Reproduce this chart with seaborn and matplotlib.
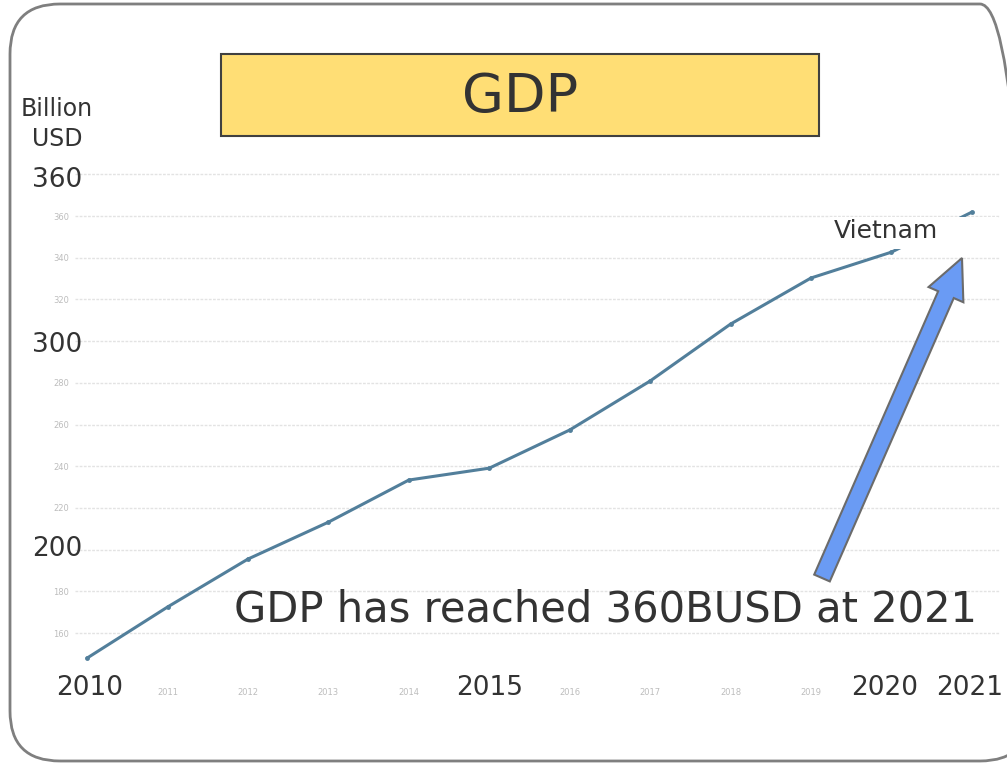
import matplotlib
matplotlib.use("Agg")
import matplotlib.pyplot as plt
import matplotlib.patches as mpatches
import seaborn as sns

# data
years = [2010, 2011, 2012, 2013, 2014, 2015, 2016, 2017, 2018, 2019, 2020, 2021]
gdp = [148.0, 172.5, 195.5, 213.2, 233.4, 239.1, 257.4, 280.9, 308.2, 330.3, 342.7, 361.9]
y_ticks = [160, 180, 200, 220, 240, 260, 280, 300, 320, 340, 360, 380]
big_y_labels = ["360", "300", "200"]
big_x_labels = ["2010", "2015", "2020", "2021"]
title = "GDP"
unit_label = "Billion\nUSD"
series_name = "Vietnam"
note = "GDP has reached 360BUSD at 2021"

sns.set_style("white")
plt.rcParams['font.family'] = ['DejaVu Sans']

W, H = 1007, 763
fig = plt.figure(figsize=(W / 100, H / 100), dpi=100)

def fx(px):
    return px / W

def fy(py):
    return 1 - py / H

# chart area (the small, faint embedded chart)
ax = fig.add_axes([fx(75), fy(670), fx(1000) - fx(75), fy(170) - fy(670)])
sns.lineplot(x=years, y=gdp, ax=ax, color="#527f9b", lw=2.2,
             marker="o", markersize=3.5, markeredgewidth=0, zorder=3)
ax.set_xlim(2009.85, 2021.35)
ax.set_ylim(142.3, 382.1)

# small labels hidden where the slide puts a big label over them
covered_x = [int(v) for v in big_x_labels]
covered_y = [200, 300, 380]
ax.set_xticks(years)
ax.set_xticklabels(["" if y in covered_x else str(y) for y in years],
                   fontsize=6, color="#bdbdbd")
ax.set_yticks(y_ticks)
ax.set_yticklabels(["" if v in covered_y else str(v) for v in y_ticks],
                   fontsize=6, color="#bdbdbd")
ax.tick_params(axis="x", length=3, color="#dddddd", pad=10)
ax.tick_params(axis="y", length=0, pad=4)
ax.grid(axis="y", color="#e3e3e3", lw=1.0, linestyle=(0, (2, 1)))
ax.set_xlabel("")
ax.set_ylabel("")
for s in ax.spines.values():
    s.set_visible(False)
ax.patch.set_alpha(0)

# rounded frame
frame = mpatches.FancyBboxPatch((0.10, 0.02), 10.2, 7.57,
                                boxstyle="round,pad=0,rounding_size=0.5",
                                transform=fig.dpi_scale_trans, fill=False,
                                edgecolor="#7f7f7f", lw=2, clip_on=False)
fig.add_artist(frame)

# title box
tb = mpatches.Rectangle((fx(221), fy(136)), fx(819) - fx(221), fy(54) - fy(136),
                        transform=fig.transFigure, facecolor="#ffde75",
                        edgecolor="#404040", lw=1.5)
fig.add_artist(tb)
fig.text(fx(520), fy(97), title, ha="center", va="center", fontsize=39, color="#333333")

txt = "#333333"
fig.text(fx(57), fy(124), unit_label, ha="center", va="center", fontsize=17,
         color=txt, linespacing=1.3)

for lab, py in zip(big_y_labels, [180, 345, 549]):
    fig.text(fx(57), fy(py), lab, ha="center", va="center", fontsize=19, color=txt)
for lab, px in zip(big_x_labels, [90, 490, 885, 970]):
    fig.text(fx(px), fy(688), lab, ha="center", va="center", fontsize=19, color=txt)

# white label box over the line end
wb = mpatches.Rectangle((fx(830), fy(249)), fx(998) - fx(830), fy(217) - fy(249),
                        transform=fig.transFigure, facecolor="white", edgecolor="none")
fig.add_artist(wb)
fig.text(fx(886), fy(231), series_name, ha="center", va="center", fontsize=18, color=txt)

# arrow
arrow = mpatches.FancyArrow(8.22, (H - 578) / 100, 1.40, 3.20, width=0.17,
                            head_width=0.38, head_length=0.40,
                            length_includes_head=True, transform=fig.dpi_scale_trans,
                            facecolor="#6a9bf4", edgecolor="#6b6b6b", lw=1.5)
fig.add_artist(arrow)

fig.text(fx(606), fy(609), note, ha="center", va="center", fontsize=30, color=txt)

fig.savefig("out.png", dpi=100)
